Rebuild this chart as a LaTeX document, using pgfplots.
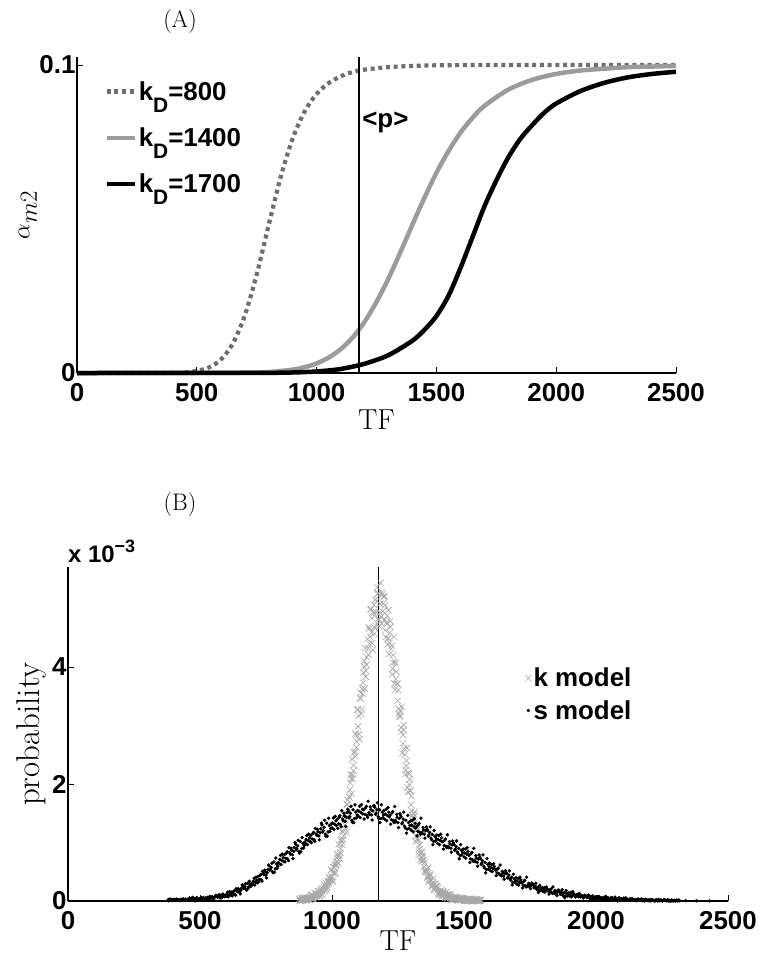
\documentclass[border=0pt]{standalone}
\usepackage{fontspec}
\usepackage{pgfplots}
\pgfplotsset{compat=1.18}
\newfontfamily\hv{Liberation Sans}
\newcommand{\tickfont}{\hv\bfseries\fontsize{26}{28}\selectfont}
\newcommand{\labfont}{\fontsize{29}{31}\selectfont}
% lowered subscript used in the legend entries
\newcommand{\lsub}[1]{\raisebox{-12bp}{\fontsize{21}{21}\selectfont #1}}

\definecolor{dashgray}{RGB}{110,110,110}
\definecolor{midgray}{RGB}{155,155,155}
\definecolor{kgray}{RGB}{168,168,168}

\pgfplotsset{
  panel/.style={
    scale only axis,
    axis x line*=bottom,
    axis y line*=left,
    axis line style={line width=1.3bp,-},
    every outer x axis line/.append style={-},
    every outer y axis line/.append style={-},
    tick style={line width=1bp,black},
    major tick length=6bp,
    tick align=inside,
    xmin=0, xmax=2500,
    xtick={0,500,1000,1500,2000,2500},
    ticklabel style={font=\tickfont},
    xticklabel style={yshift=-7bp},
    yticklabel style={xshift=2bp},
    /pgf/number format/assume math mode=true,
    /pgf/number format/1000 sep={},
    label style={font=\labfont},
    clip=false,
  },
}

\begin{document}
\begin{tikzpicture}
\path[use as bounding box] (0,0) rectangle (762bp,-961bp);

% ---------------- panel (A): activation curves ----------------
\node[font=\fontsize{24}{26}\selectfont] at (180bp,-22bp) {(A)};
\begin{axis}[panel,
  at={(77bp,-373bp)}, anchor=south west,
  width=599bp, height=316bp,
  ymin=0, ymax=0.1026,
  ytick={0,0.1},
  yticklabel style={/pgf/number format/fixed},
  xlabel={TF},
  xlabel style={at={(axis description cs:0.5,0)}, anchor=center, yshift=-47bp},
  ylabel={$\alpha_{m2}$},
  ylabel style={at={(axis description cs:-0.082,0.5)}, anchor=center, font=\fontsize{34}{36}\selectfont},
  legend style={draw=none, fill=none, at={(axis cs:113,0.0954)}, anchor=north west,
    font=\tickfont, row sep=22bp, inner sep=0pt},
  legend cell align=left,
  legend image code/.code={\draw[#1] (0bp,0bp) -- (28bp,0bp);},
]
\addplot[dashgray, line width=4.2bp, dash pattern=on 4bp off 3.7bp, smooth, tension=0.5]
coordinates {(0,0)(300,0.00001)(400,0.00006)(450,0.0002)(500,0.0007)(550,0.0018)
(600,0.0043)(650,0.0095)(700,0.0186)(750,0.0320)(800,0.0480)(850,0.0636)
(900,0.0761)(950,0.0849)(1000,0.0906)(1050,0.0941)(1100,0.0963)(1150,0.0977)
(1200,0.0985)(1300,0.0993)(1400,0.0997)(1500,0.0999)(1700,0.1)(2000,0.1)(2500,0.1)};
\addlegendentry{k\lsub{D}=800}
\addplot[midgray, line width=4.5bp, smooth, tension=0.5]
coordinates {(0,0)(500,0.000003)(700,0.0001)(800,0.0003)(900,0.0011)(950,0.0019)
(1000,0.0031)(1050,0.0050)(1100,0.0077)(1150,0.0115)(1200,0.0166)(1250,0.0231)
(1300,0.0307)(1350,0.0393)(1400,0.0482)(1450,0.0569)(1500,0.0650)(1550,0.0720)
(1600,0.0780)(1650,0.0828)(1700,0.0867)(1800,0.0920)(1900,0.0952)(2000,0.0971)
(2100,0.0982)(2200,0.0988)(2300,0.0993)(2400,0.0995)(2500,0.0997)};
\addlegendentry{k\lsub{D}=1400}
\addplot[black, line width=4.5bp, smooth, tension=0.5]
coordinates {(0,0)(700,0.00002)(800,0.00005)(900,0.00017)(1000,0.0005)(1100,0.0013)
(1200,0.0030)(1300,0.0058)(1400,0.0105)(1450,0.0140)(1500,0.0185)(1550,0.0250)
(1600,0.0340)(1650,0.0440)(1700,0.0540)(1750,0.0625)(1800,0.0700)(1850,0.0760)
(1900,0.0805)(1950,0.0845)(2000,0.0875)(2100,0.0915)(2200,0.0942)(2300,0.0960)
(2400,0.0971)(2500,0.0978)};
\addlegendentry{k\lsub{D}=1700}
% mean TF level
\addplot[black, line width=1.6bp, forget plot] coordinates {(1176,0) (1176,0.1026)};
\node[anchor=west, font=\tickfont, inner sep=0pt] at (axis cs:1190,0.0815) {<p>};
\end{axis}

% ---------------- panel (B): distributions ----------------
\node[font=\fontsize{24}{26}\selectfont] at (180bp,-505bp) {(B)};
\node[anchor=base west, font=\hv\bfseries\fontsize{24}{26}\selectfont, inner sep=0pt] at (68bp,-562bp)
  {x 10\raisebox{10bp}{\fontsize{18}{18}\selectfont −3}};
\begin{axis}[panel,
  at={(68bp,-901bp)}, anchor=south west,
  width=660bp, height=334bp,
  ymin=0, ymax=5.71,
  ytick={0,2,4},
  xlabel={TF},
  xlabel style={at={(axis description cs:0.5,0)}, anchor=center, yshift=-40bp},
  ylabel={probability},
  ylabel style={at={(axis description cs:-0.056,0.5)}, anchor=center, font=\fontsize{33}{35}\selectfont},
  legend style={draw=none, fill=none, at={(axis cs:1731,4.02)}, anchor=north west,
    font=\tickfont, row sep=8bp, inner sep=0pt},
  legend cell align=left,
]
\addplot[only marks, mark=x, mark size=4.5bp, kgray, mark options={line width=0.6bp}]
coordinates {
(876,0.034)(879,0.004)(882,0.022)(886,0.017)(889,0.045)(892,0.023)
(896,0.055)(899,0.029)(902,0.017)(906,0.049)(909,0.057)(912,0.031)
(916,0.020)(919,0.076)(922,0.092)(926,0.108)(929,0.048)(932,0.084)
(936,0.080)(939,0.136)(942,0.092)(946,0.170)(949,0.118)(952,0.094)
(956,0.172)(959,0.196)(962,0.118)(966,0.150)(969,0.234)(972,0.258)
(976,0.312)(979,0.222)(982,0.276)(986,0.320)(989,0.404)(992,0.338)
(996,0.530)(999,0.413)(1002,0.359)(1006,0.578)(1009,0.614)(1012,0.497)
(1016,0.610)(1019,0.736)(1022,0.772)(1026,0.971)(1029,0.776)(1032,0.893)
(1036,1.015)(1039,1.197)(1042,1.054)(1046,1.470)(1049,1.301)(1052,1.223)
(1056,1.656)(1059,1.728)(1062,1.494)(1066,1.770)(1069,2.022)(1072,2.094)
(1076,2.426)(1079,2.156)(1082,2.318)(1086,2.560)(1089,2.868)(1092,2.626)
(1096,3.270)(1099,2.984)(1102,2.852)(1106,3.474)(1109,3.562)(1112,3.276)
(1116,3.540)(1119,3.904)(1122,4.008)(1126,4.322)(1129,3.932)(1132,4.166)
(1136,4.320)(1139,4.684)(1142,4.398)(1146,4.980)(1149,4.590)(1152,4.410)
(1156,4.940)(1159,5.060)(1162,4.670)(1166,4.710)(1169,5.130)(1172,5.250)
(1176,5.260)(1179,4.810)(1182,5.080)(1186,4.860)(1189,5.280)(1192,4.950)
(1196,5.200)(1199,4.810)(1202,4.630)(1206,4.760)(1209,4.880)(1212,4.490)
(1216,4.220)(1219,4.584)(1222,4.688)(1226,4.362)(1229,3.972)(1232,4.206)
(1236,3.720)(1239,4.084)(1242,3.798)(1246,3.710)(1249,3.424)(1252,3.292)
(1256,3.164)(1259,3.252)(1262,2.966)(1266,2.530)(1269,2.838)(1272,2.926)
(1276,2.506)(1279,2.236)(1282,2.398)(1286,1.940)(1289,2.192)(1292,1.994)
(1296,1.880)(1299,1.646)(1302,1.538)(1306,1.436)(1309,1.488)(1312,1.319)
(1316,1.020)(1319,1.202)(1322,1.254)(1326,1.031)(1329,0.836)(1332,0.953)
(1336,0.715)(1339,0.841)(1342,0.742)(1346,0.700)(1349,0.583)(1352,0.529)
(1356,0.508)(1359,0.544)(1362,0.427)(1366,0.330)(1369,0.414)(1372,0.438)
(1376,0.352)(1379,0.262)(1382,0.316)(1386,0.210)(1389,0.294)(1392,0.228)
(1396,0.250)(1399,0.172)(1402,0.136)(1406,0.158)(1409,0.174)(1412,0.122)
(1416,0.080)(1419,0.136)(1422,0.152)(1426,0.128)(1429,0.068)(1432,0.104)
(1436,0.060)(1439,0.116)(1442,0.072)(1446,0.105)(1449,0.053)(1452,0.029)
(1456,0.054)(1459,0.062)(1462,0.036)(1466,0.022)(1469,0.050)(1472,0.058)
(1476,0.049)(1479,0.019)(1482,0.037)(1486,0.018)(1489,0.046)(1492,0.024)
(1496,0.042)(1499,0.016)(1502,0.004)(1506,0.022)(1509,0.030)(1512,0.004)
(1516,0.001)(1519,0.022)(1522,0.030)(1526,0.025)(1529,0.001)(1532,0.013)
(1536,0.002)(1539,0.026)(1542,0.004)(1546,0.026)(1549,0.001)(1552,0.001)
(1556,0.008)(1559,0.016)(1562,0.001)
(878,0.001)(881,0.012)(884,0.046)(888,0.009)(891,0.043)(894,0.032)
(898,0.056)(901,0.045)(904,0.009)(908,0.048)(911,0.024)(914,0.063)
(918,0.050)(921,0.107)(924,0.034)(928,0.033)(931,0.064)(934,0.132)
(938,0.064)(941,0.131)(944,0.110)(948,0.172)(951,0.151)(954,0.078)
(958,0.168)(961,0.098)(964,0.215)(968,0.194)(971,0.280)(974,0.171)
(978,0.200)(981,0.247)(984,0.348)(988,0.295)(991,0.397)(994,0.366)
(998,0.534)(1001,0.487)(1004,0.323)(1008,0.572)(1011,0.466)(1014,0.642)
(1018,0.677)(1021,0.805)(1024,0.642)(1028,0.728)(1031,0.829)(1034,1.049)
(1038,0.962)(1041,1.181)(1044,1.114)(1048,1.475)(1051,1.408)(1054,1.171)
(1058,1.643)(1061,1.433)(1064,1.784)(1068,1.903)(1071,2.161)(1074,1.833)
(1078,2.089)(1081,2.230)(1084,2.534)(1088,2.470)(1091,2.842)(1094,2.727)
(1098,3.279)(1101,3.164)(1104,2.764)(1108,3.459)(1111,3.201)(1114,3.630)
(1118,3.732)(1121,4.104)(1124,3.631)(1128,3.836)(1131,4.039)(1134,4.478)
(1138,4.213)(1141,4.653)(1144,4.518)(1148,4.992)(1151,4.836)(1154,4.290)
(1158,4.919)(1161,4.568)(1164,5.153)(1168,4.932)(1171,5.361)(1174,4.815)
(1178,4.699)(1181,4.933)(1184,5.440)(1188,4.737)(1191,5.244)(1194,5.088)
(1198,5.212)(1201,5.056)(1204,4.510)(1208,4.739)(1211,4.388)(1214,4.973)
(1218,4.412)(1221,4.784)(1224,4.311)(1228,3.876)(1231,4.079)(1234,4.518)
(1238,3.613)(1241,4.053)(1244,3.918)(1248,3.719)(1251,3.604)(1254,3.204)
(1258,3.149)(1261,2.891)(1264,3.320)(1268,2.693)(1271,3.007)(1274,2.607)
(1278,2.169)(1281,2.310)(1284,2.614)(1288,1.866)(1291,2.170)(1294,2.077)
(1298,1.887)(1301,1.794)(1304,1.466)(1308,1.427)(1311,1.275)(1314,1.528)
(1318,1.116)(1321,1.302)(1324,1.066)(1328,0.788)(1331,0.889)(1334,1.109)
(1338,0.678)(1341,0.830)(1344,0.783)(1348,0.704)(1351,0.657)(1354,0.493)
(1358,0.502)(1361,0.396)(1364,0.572)(1368,0.374)(1371,0.460)(1374,0.351)
(1378,0.240)(1381,0.287)(1384,0.388)(1388,0.185)(1391,0.287)(1394,0.256)
(1398,0.252)(1401,0.221)(1404,0.112)(1408,0.155)(1411,0.108)(1414,0.186)
(1418,0.110)(1421,0.167)(1424,0.094)(1428,0.053)(1431,0.084)(1434,0.152)
(1438,0.044)(1441,0.111)(1444,0.090)(1448,0.107)(1451,0.086)(1454,0.013)
(1458,0.053)(1461,0.029)(1464,0.068)(1468,0.037)(1471,0.065)(1474,0.029)
(1478,0.012)(1481,0.027)(1484,0.061)(1488,0.010)(1491,0.044)(1494,0.033)
(1498,0.043)(1501,0.032)(1504,0.001)(1508,0.021)(1511,0.001)(1514,0.036)
(1518,0.009)(1521,0.037)(1524,0.001)(1528,0.001)(1531,0.003)(1534,0.037)
(1538,0.001)(1541,0.024)(1544,0.013)(1548,0.027)(1551,0.016)(1554,0.001)
(1558,0.007)(1561,0.001)(1564,0.022)};
\addlegendentry{k model}
\addplot[only marks, mark=*, mark size=1.5bp, black]
coordinates {
(380,0.026)(385,0.011)(390,0.022)(395,0.017)(400,0.013)(405,0.030)(410,0.019)(415,0.025)
(420,0.023)(425,0.015)(430,0.029)(435,0.010)(440,0.023)(445,0.033)(450,0.019)(455,0.026)
(460,0.052)(465,0.022)(470,0.038)(475,0.014)(480,0.042)(485,0.012)(490,0.034)(495,0.024)
(500,0.021)(505,0.055)(510,0.033)(515,0.045)(520,0.051)(525,0.035)(530,0.063)(535,0.025)
(540,0.056)(545,0.076)(550,0.048)(555,0.062)(560,0.097)(565,0.067)(570,0.083)(575,0.059)
(580,0.102)(585,0.072)(590,0.094)(595,0.084)(600,0.082)(605,0.150)(610,0.106)(615,0.130)
(620,0.152)(625,0.120)(630,0.176)(635,0.100)(640,0.172)(645,0.212)(650,0.156)(655,0.184)
(660,0.274)(665,0.214)(670,0.246)(675,0.198)(680,0.304)(685,0.244)(690,0.288)(695,0.268)
(700,0.288)(705,0.390)(710,0.324)(715,0.360)(720,0.418)(725,0.370)(730,0.454)(735,0.340)
(740,0.468)(745,0.528)(750,0.444)(755,0.486)(760,0.616)(765,0.526)(770,0.574)(775,0.502)
(780,0.668)(785,0.548)(790,0.636)(795,0.596)(800,0.644)(805,0.780)(810,0.692)(815,0.740)
(820,0.794)(825,0.730)(830,0.842)(835,0.690)(840,0.824)(845,0.904)(850,0.792)(855,0.848)
(860,0.998)(865,0.878)(870,0.942)(875,0.846)(880,1.018)(885,0.898)(890,0.986)(895,0.946)
(900,0.984)(905,1.120)(910,1.032)(915,1.080)(920,1.124)(925,1.060)(930,1.172)(935,1.020)
(940,1.144)(945,1.224)(950,1.112)(955,1.168)(960,1.330)(965,1.180)(970,1.260)(975,1.140)
(980,1.330)(985,1.180)(990,1.290)(995,1.240)(1000,1.250)(1005,1.420)(1010,1.310)(1015,1.370)
(1020,1.400)(1025,1.320)(1030,1.460)(1035,1.270)(1040,1.400)(1045,1.500)(1050,1.360)(1055,1.430)
(1060,1.570)(1065,1.420)(1070,1.500)(1075,1.380)(1080,1.560)(1085,1.410)(1090,1.520)(1095,1.470)
(1100,1.450)(1105,1.620)(1110,1.510)(1115,1.570)(1120,1.560)(1125,1.480)(1130,1.620)(1135,1.430)
(1140,1.510)(1145,1.610)(1150,1.470)(1155,1.540)(1160,1.630)(1165,1.480)(1170,1.560)(1175,1.440)
(1180,1.560)(1185,1.410)(1190,1.520)(1195,1.470)(1200,1.400)(1205,1.570)(1210,1.460)(1215,1.520)
(1220,1.470)(1225,1.390)(1230,1.530)(1235,1.340)(1240,1.380)(1245,1.480)(1250,1.340)(1255,1.410)
(1260,1.470)(1265,1.320)(1270,1.400)(1275,1.280)(1280,1.380)(1285,1.230)(1290,1.340)(1295,1.290)
(1300,1.210)(1305,1.380)(1310,1.270)(1315,1.330)(1320,1.270)(1325,1.190)(1330,1.330)(1335,1.140)
(1340,1.174)(1345,1.254)(1350,1.142)(1355,1.198)(1360,1.228)(1365,1.108)(1370,1.172)(1375,1.076)
(1380,1.138)(1385,1.018)(1390,1.106)(1395,1.066)(1400,0.984)(1405,1.120)(1410,1.032)(1415,1.080)
(1420,1.014)(1425,0.950)(1430,1.062)(1435,0.910)(1440,0.934)(1445,1.014)(1450,0.902)(1455,0.958)
(1460,0.988)(1465,0.868)(1470,0.932)(1475,0.836)(1480,0.898)(1485,0.778)(1490,0.866)(1495,0.826)
(1500,0.754)(1505,0.890)(1510,0.802)(1515,0.850)(1520,0.784)(1525,0.720)(1530,0.832)(1535,0.680)
(1540,0.694)(1545,0.774)(1550,0.662)(1555,0.718)(1560,0.748)(1565,0.628)(1570,0.692)(1575,0.596)
(1580,0.658)(1585,0.538)(1590,0.626)(1595,0.586)(1600,0.518)(1605,0.620)(1610,0.554)(1615,0.590)
(1620,0.528)(1625,0.480)(1630,0.564)(1635,0.450)(1640,0.448)(1645,0.508)(1650,0.424)(1655,0.466)
(1660,0.486)(1665,0.396)(1670,0.444)(1675,0.372)(1680,0.406)(1685,0.316)(1690,0.382)(1695,0.352)
(1700,0.288)(1705,0.390)(1710,0.324)(1715,0.360)(1720,0.318)(1725,0.270)(1730,0.354)(1735,0.240)
(1740,0.262)(1745,0.302)(1750,0.246)(1755,0.274)(1760,0.284)(1765,0.224)(1770,0.256)(1775,0.208)
(1780,0.234)(1785,0.174)(1790,0.218)(1795,0.198)(1800,0.162)(1805,0.230)(1810,0.186)(1815,0.210)
(1820,0.182)(1825,0.150)(1830,0.206)(1835,0.130)(1840,0.142)(1845,0.182)(1850,0.126)(1855,0.154)
(1860,0.174)(1865,0.114)(1870,0.146)(1875,0.098)(1880,0.144)(1885,0.084)(1890,0.128)(1895,0.108)
(1900,0.082)(1905,0.150)(1910,0.106)(1915,0.130)(1920,0.101)(1925,0.085)(1930,0.113)(1935,0.075)
(1940,0.076)(1945,0.096)(1950,0.068)(1955,0.082)(1960,0.092)(1965,0.062)(1970,0.078)(1975,0.054)
(1980,0.072)(1985,0.042)(1990,0.064)(1995,0.054)(2000,0.036)(2005,0.070)(2010,0.048)(2015,0.060)
(2020,0.051)(2025,0.035)(2030,0.063)(2035,0.025)(2040,0.036)(2045,0.056)(2050,0.028)(2055,0.042)
(2060,0.057)(2065,0.027)(2070,0.043)(2075,0.019)(2080,0.042)(2085,0.012)(2090,0.034)(2095,0.024)
(2100,0.016)(2105,0.050)(2110,0.028)(2115,0.040)(2120,0.028)(2125,0.020)(2130,0.034)(2135,0.015)
(2140,0.018)(2145,0.028)(2150,0.014)(2155,0.021)(2160,0.031)(2165,0.016)(2170,0.024)(2175,0.012)
(2180,0.021)(2185,0.006)(2190,0.017)(2195,0.012)(2200,0.005)(2205,0.022)(2210,0.011)(2215,0.017)
(2220,0.013)(2225,0.005)(2230,0.019)(2235,0.002)(2240,0.008)(2245,0.018)(2250,0.004)(2255,0.011)
(2260,0.019)(2265,0.004)(2270,0.012)(2275,0.002)(2280,0.012)(2285,0.002)(2290,0.008)(2295,0.003)
(2300,0.002)(2305,0.015)(2310,0.004)(2315,0.010)(2340,0.006)(2380,0.003)(2430,0.002)
(382,0.004)(387,0.034)(392,0.012)(397,0.025)(402,0.022)(407,0.010)(412,0.033)(417,0.017)
(422,0.007)(427,0.026)(432,0.014)(437,0.038)(442,0.020)(447,0.028)(452,0.011)(457,0.035)
(462,0.046)(467,0.027)(472,0.062)(477,0.008)(482,0.001)(487,0.059)(492,0.014)(497,0.040)
(502,0.038)(507,0.016)(512,0.061)(517,0.029)(522,0.019)(527,0.058)(532,0.032)(537,0.080)
(542,0.050)(547,0.066)(552,0.031)(557,0.079)(562,0.091)(567,0.072)(572,0.107)(577,0.053)
(582,0.058)(587,0.119)(592,0.074)(597,0.100)(602,0.116)(607,0.072)(612,0.161)(617,0.097)
(622,0.089)(627,0.166)(632,0.114)(637,0.210)(642,0.161)(647,0.193)(652,0.122)(657,0.218)
(662,0.262)(667,0.224)(672,0.294)(677,0.185)(682,0.216)(687,0.338)(692,0.248)(697,0.299)
(702,0.340)(707,0.272)(712,0.407)(717,0.311)(722,0.323)(727,0.438)(732,0.362)(737,0.506)
(742,0.451)(747,0.499)(752,0.394)(757,0.538)(762,0.598)(767,0.540)(772,0.646)(777,0.483)
(782,0.492)(787,0.735)(792,0.556)(797,0.658)(802,0.713)(807,0.623)(812,0.802)(817,0.674)
(822,0.668)(827,0.821)(832,0.719)(837,0.911)(842,0.802)(847,0.866)(852,0.725)(857,0.917)
(862,0.974)(867,0.897)(872,1.038)(877,0.820)(882,0.842)(887,1.085)(892,0.906)(897,1.008)
(902,1.053)(907,0.963)(912,1.142)(917,1.014)(922,0.998)(927,1.151)(932,1.049)(937,1.241)
(942,1.122)(947,1.186)(952,1.045)(957,1.237)(962,1.300)(967,1.204)(972,1.380)(977,1.108)
(982,1.110)(987,1.414)(992,1.190)(997,1.318)(1002,1.336)(1007,1.224)(1012,1.448)(1017,1.288)
(1022,1.242)(1027,1.434)(1032,1.306)(1037,1.546)(1042,1.372)(1047,1.452)(1052,1.276)(1057,1.516)
(1062,1.540)(1067,1.444)(1072,1.620)(1077,1.348)(1082,1.340)(1087,1.644)(1092,1.420)(1097,1.548)
(1102,1.536)(1107,1.424)(1112,1.648)(1117,1.488)(1122,1.402)(1127,1.594)(1132,1.466)(1137,1.706)
(1142,1.482)(1147,1.562)(1152,1.386)(1157,1.626)(1162,1.600)(1167,1.504)(1172,1.680)(1177,1.408)
(1182,1.340)(1187,1.644)(1192,1.420)(1197,1.548)(1202,1.486)(1207,1.374)(1212,1.598)(1217,1.438)
(1222,1.312)(1227,1.504)(1232,1.376)(1237,1.616)(1242,1.352)(1247,1.432)(1252,1.256)(1257,1.496)
(1262,1.440)(1267,1.344)(1272,1.520)(1277,1.248)(1282,1.160)(1287,1.464)(1292,1.240)(1297,1.368)
(1302,1.296)(1307,1.184)(1312,1.408)(1317,1.248)(1322,1.112)(1327,1.304)(1332,1.176)(1337,1.416)
(1342,1.152)(1347,1.216)(1352,1.075)(1357,1.267)(1362,1.204)(1367,1.127)(1372,1.268)(1377,1.050)
(1382,0.962)(1387,1.205)(1392,1.026)(1397,1.128)(1402,1.053)(1407,0.963)(1412,1.142)(1417,1.014)
(1422,0.888)(1427,1.041)(1432,0.939)(1437,1.131)(1442,0.912)(1447,0.976)(1452,0.835)(1457,1.027)
(1462,0.964)(1467,0.887)(1472,1.028)(1477,0.810)(1482,0.722)(1487,0.965)(1492,0.786)(1497,0.888)
(1502,0.823)(1507,0.733)(1512,0.912)(1517,0.784)(1522,0.658)(1527,0.811)(1532,0.709)(1537,0.901)
(1542,0.672)(1547,0.736)(1552,0.595)(1557,0.787)(1562,0.724)(1567,0.647)(1572,0.788)(1577,0.570)
(1582,0.482)(1587,0.725)(1592,0.546)(1597,0.648)(1602,0.570)(1607,0.502)(1612,0.637)(1617,0.541)
(1622,0.433)(1627,0.548)(1632,0.472)(1637,0.616)(1642,0.431)(1647,0.479)(1652,0.374)(1657,0.518)
(1662,0.468)(1667,0.410)(1672,0.516)(1677,0.353)(1682,0.274)(1687,0.456)(1692,0.322)(1697,0.399)
(1702,0.340)(1707,0.272)(1712,0.407)(1717,0.311)(1722,0.223)(1727,0.338)(1732,0.262)(1737,0.406)
(1742,0.251)(1747,0.283)(1752,0.212)(1757,0.308)(1762,0.272)(1767,0.234)(1772,0.304)(1777,0.195)
(1782,0.146)(1787,0.268)(1792,0.178)(1797,0.229)(1802,0.196)(1807,0.152)(1812,0.241)(1817,0.177)
(1822,0.119)(1827,0.196)(1832,0.144)(1837,0.240)(1842,0.131)(1847,0.163)(1852,0.092)(1857,0.188)
(1862,0.162)(1867,0.124)(1872,0.194)(1877,0.085)(1882,0.056)(1887,0.178)(1892,0.088)(1897,0.139)
(1902,0.116)(1907,0.072)(1912,0.161)(1917,0.097)(1922,0.069)(1927,0.108)(1932,0.082)(1937,0.130)
(1942,0.070)(1947,0.086)(1952,0.051)(1957,0.099)(1962,0.086)(1967,0.067)(1972,0.102)(1977,0.048)
(1982,0.028)(1987,0.089)(1992,0.044)(1997,0.070)(2002,0.053)(2007,0.031)(2012,0.076)(2017,0.044)
(2022,0.019)(2027,0.058)(2032,0.032)(2037,0.080)(2042,0.030)(2047,0.046)(2052,0.011)(2057,0.059)
(2062,0.051)(2067,0.032)(2072,0.067)(2077,0.013)(2082,0.001)(2087,0.059)(2092,0.014)(2097,0.040)
(2102,0.033)(2107,0.011)(2112,0.056)(2117,0.024)(2122,0.012)(2127,0.031)(2132,0.019)(2137,0.043)
(2142,0.015)(2147,0.023)(2152,0.006)(2157,0.030)(2162,0.028)(2167,0.018)(2172,0.036)(2177,0.009)
(2182,0.001)(2187,0.029)(2192,0.007)(2197,0.020)(2202,0.014)(2207,0.002)(2212,0.025)(2217,0.009)
(2222,0.001)(2227,0.016)(2232,0.004)(2237,0.028)(2242,0.005)(2247,0.013)(2252,0.001)(2257,0.020)
(2262,0.016)(2267,0.006)(2272,0.024)(2277,0.001)(2282,0.001)(2287,0.020)(2292,0.001)(2297,0.011)
(2302,0.007)(2307,0.001)(2312,0.018)(2317,0.002)};
\addlegendentry{s model}
% mean TF level
\addplot[black, line width=1.6bp, forget plot] coordinates {(1176,0) (1176,5.71)};
\end{axis}
\end{tikzpicture}
\end{document}
